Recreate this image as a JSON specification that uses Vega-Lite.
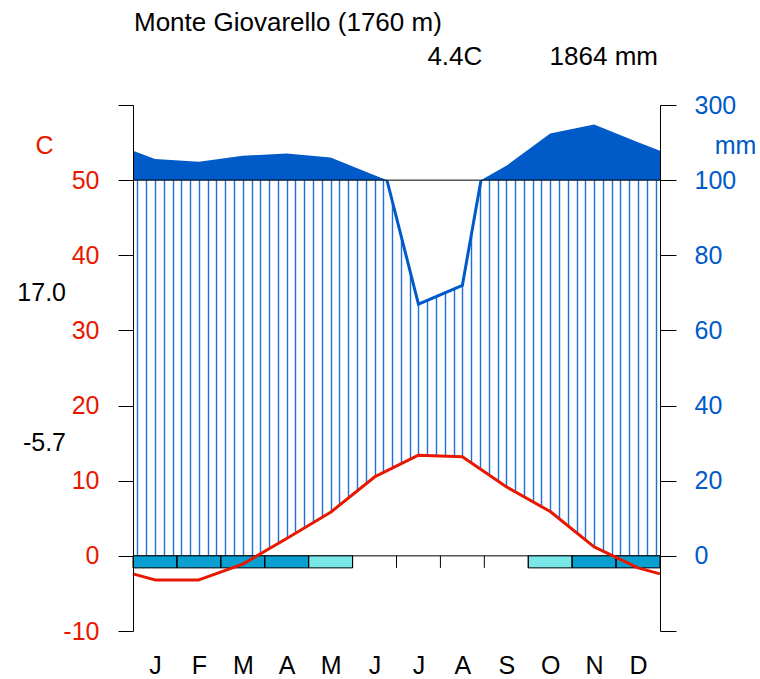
{
  "$schema": "https://vega.github.io/schema/vega-lite/v6.json",
  "width": 527,
  "height": 526,
  "autosize": "none",
  "padding": {"left": 133, "top": 105, "right": 100, "bottom": 48},
  "background": "white",
  "config": {"view": {"stroke": null}, "font": "Liberation Sans"},
  "datasets": {
    "clim": [
      {"pos": 0, "month": "Dec-Jan", "edge": true, "t": -2.4, "p": 178.5},
      {"pos": 0.5, "month": "Jan", "edge": false, "t": -3.2, "p": 156},
      {"pos": 1.5, "month": "Feb", "edge": false, "t": -3.2, "p": 149},
      {"pos": 2.5, "month": "Mar", "edge": false, "t": -1.1, "p": 165},
      {"pos": 3.5, "month": "Apr", "edge": false, "t": 2.3, "p": 171},
      {"pos": 4.5, "month": "May", "edge": false, "t": 5.8, "p": 160},
      {"pos": 5.5, "month": "Jun", "edge": false, "t": 10.5, "p": 113},
      {"pos": 6.5, "month": "Jul", "edge": false, "t": 13.4, "p": 67},
      {"pos": 7.5, "month": "Aug", "edge": false, "t": 13.2, "p": 72},
      {"pos": 8.5, "month": "Sep", "edge": false, "t": 9.2, "p": 138},
      {"pos": 9.5, "month": "Oct", "edge": false, "t": 5.9, "p": 224},
      {"pos": 10.5, "month": "Nov", "edge": false, "t": 1.2, "p": 248},
      {"pos": 11.5, "month": "Dec", "edge": false, "t": -1.6, "p": 201},
      {"pos": 12, "month": "Dec-Jan", "edge": true, "t": -2.4, "p": 178.5}
    ],
    "frost": [
      {"from": 0, "to": 1, "kind": "sure"},
      {"from": 1, "to": 2, "kind": "sure"},
      {"from": 2, "to": 3, "kind": "sure"},
      {"from": 3, "to": 4, "kind": "sure"},
      {"from": 4, "to": 5, "kind": "probable"},
      {"from": 9, "to": 10, "kind": "probable"},
      {"from": 10, "to": 11, "kind": "sure"},
      {"from": 11, "to": 12, "kind": "sure"}
    ],
    "bounds": [
      {"b": 1}, {"b": 2}, {"b": 3}, {"b": 4}, {"b": 5}, {"b": 6},
      {"b": 7}, {"b": 8}, {"b": 9}, {"b": 10}, {"b": 11}
    ]
  },
  "data": {"name": "clim"},
  "layer": [
    {
      "mark": {"type": "area", "color": "white", "clip": true},
      "encoding": {
        "x": {
          "field": "pos",
          "type": "quantitative",
          "title": null,
          "scale": {"domain": [0, 12], "nice": false, "zero": false},
          "axis": {
            "values": [0.1, 0.3, 0.5, 0.7, 0.9, 1.1, 1.3, 1.5, 1.7, 1.9, 2.1, 2.3, 2.5, 2.7, 2.9, 3.1, 3.3, 3.5, 3.7, 3.9, 4.1, 4.3, 4.5, 4.7, 4.9, 5.1, 5.3, 5.5, 5.7, 5.9, 6.1, 6.3, 6.5, 6.7, 6.9, 7.1, 7.3, 7.5, 7.7, 7.9, 8.1, 8.3, 8.5, 8.7, 8.9, 9.1, 9.3, 9.5, 9.7, 9.9, 10.1, 10.3, 10.5, 10.7, 10.9, 11.1, 11.3, 11.5, 11.7, 11.9],
            "tickCount": 100,
            "grid": true,
            "gridColor": "#1f6fd6",
            "gridWidth": 1.4,
            "ticks": false,
            "tickSize": 0,
            "domain": false,
            "labelExpr": "abs(datum.value - floor(datum.value) - 0.5) < 0.01 ? ['J','F','M','A','M','J','J','A','S','O','N','D'][floor(datum.value)] : ''",
            "labelFontSize": 25,
            "labelColor": "black",
            "labelPadding": 22,
            "labelOverlap": false,
            "labelFlush": false,
            "zindex": 0
          }
        },
        "y": {"field": "p", "type": "quantitative", "scale": {"domain": [-20, 120], "nice": false, "zero": false}, "axis": null},
        "y2": {"datum": 100}
      }
    },
    {
      "mark": {"type": "line", "color": "#005ac8", "strokeWidth": 3, "clip": true},
      "encoding": {
        "x": {"field": "pos", "type": "quantitative", "title": null, "scale": {"domain": [0, 12], "nice": false, "zero": false}},
        "y": {"field": "p", "type": "quantitative", "scale": {"domain": [-20, 120], "nice": false, "zero": false}, "axis": null}
      }
    },
    {
      "mark": {"type": "area", "color": "white"},
      "encoding": {
        "x": {"field": "pos", "type": "quantitative", "title": null, "scale": {"domain": [0, 12], "nice": false, "zero": false}},
        "y": {"field": "t", "type": "quantitative", "scale": {"domain": [-10, 60], "nice": false, "zero": false}, "axis": null},
        "y2": {"datum": -10.5}
      }
    },
    {
      "data": {"values": [{}]},
      "mark": {"type": "rect", "color": "white"},
      "encoding": {
        "x": {"datum": 0, "type": "quantitative", "title": null, "scale": {"domain": [0, 12], "nice": false, "zero": false}},
        "x2": {"datum": 12},
        "y": {"datum": 0, "type": "quantitative", "scale": {"domain": [-10, 60], "nice": false, "zero": false}, "axis": null},
        "y2": {"datum": -10.5}
      }
    },
    {
      "data": {"values": [{}]},
      "mark": {"type": "rect", "color": "#005ac8"},
      "encoding": {
        "x": {"datum": 0, "type": "quantitative", "title": null, "scale": {"domain": [0, 12], "nice": false, "zero": false}},
        "x2": {"datum": 12},
        "y": {
          "datum": 100,
          "type": "quantitative",
          "scale": {"domain": [-20, 100, 300], "range": [526, 75.142857, 0], "nice": false, "zero": false},
          "axis": {
            "orient": "right",
            "values": [-20, 0, 20, 40, 60, 80, 100, 300],
            "labelExpr": "datum.value < 0 ? '' : '' + datum.value",
            "grid": false,
            "tickSize": 16,
            "tickColor": "black",
            "domainColor": "black",
            "labelColor": "#005ac8",
            "labelFontSize": 25,
            "labelPadding": 18,
            "labelFlush": false,
            "labelOverlap": false,
            "title": "mm",
            "titleAngle": 0,
            "titleX": 75,
            "titleY": 40,
            "titleAlign": "center",
            "titleBaseline": "middle",
            "titleColor": "#005ac8",
            "titleFontSize": 25,
            "titleFontWeight": "normal",
            "zindex": 1
          }
        },
        "y2": {"datum": 300}
      }
    },
    {
      "mark": {"type": "area", "color": "white"},
      "encoding": {
        "x": {"field": "pos", "type": "quantitative", "title": null, "scale": {"domain": [0, 12], "nice": false, "zero": false}},
        "y": {"field": "p", "type": "quantitative", "scale": {"domain": [-1100, 300], "nice": false, "zero": false}, "axis": null},
        "y2": {"datum": 308}
      }
    },
    {
      "data": {"values": [{}]},
      "mark": {"type": "rule", "color": "black", "strokeWidth": 1},
      "encoding": {
        "y": {"datum": 50, "type": "quantitative", "scale": {"domain": [-10, 60], "nice": false, "zero": false}, "axis": null}
      }
    },
    {
      "data": {"values": [{}]},
      "mark": {"type": "rule", "color": "black", "strokeWidth": 1},
      "encoding": {
        "y": {"datum": 0, "type": "quantitative", "scale": {"domain": [-10, 60], "nice": false, "zero": false}, "axis": null}
      }
    },
    {
      "data": {"name": "frost"},
      "mark": {"type": "rect", "stroke": "black", "strokeWidth": 1},
      "encoding": {
        "x": {"field": "from", "type": "quantitative", "title": null, "scale": {"domain": [0, 12], "nice": false, "zero": false}},
        "x2": {"field": "to"},
        "y": {"datum": 0, "type": "quantitative", "scale": {"domain": [-10, 60], "nice": false, "zero": false}, "axis": null},
        "y2": {"datum": -1.6},
        "fill": {"field": "kind", "type": "nominal", "scale": {"domain": ["sure", "probable"], "range": ["#09a0d1", "#79e6e8"]}, "legend": null}
      }
    },
    {
      "data": {"name": "bounds"},
      "mark": {"type": "rule", "color": "black", "strokeWidth": 1},
      "encoding": {
        "x": {"field": "b", "type": "quantitative", "title": null, "scale": {"domain": [0, 12], "nice": false, "zero": false}},
        "y": {"datum": 0, "type": "quantitative", "scale": {"domain": [-10, 60], "nice": false, "zero": false}, "axis": null},
        "y2": {"datum": -1.6}
      }
    },
    {
      "mark": {"type": "line", "color": "#e81800", "strokeWidth": 3, "strokeJoin": "round"},
      "encoding": {
        "x": {"field": "pos", "type": "quantitative", "title": null, "scale": {"domain": [0, 12], "nice": false, "zero": false}},
        "y": {
          "field": "t",
          "type": "quantitative",
          "scale": {"domain": [-10, 60], "nice": false, "zero": false},
          "axis": {
            "orient": "left",
            "values": [-10, 0, 10, 20, 30, 40, 50, 60],
            "labelExpr": "datum.value > 55 ? '' : '' + datum.value",
            "grid": false,
            "tickSize": 15,
            "tickColor": "black",
            "domainColor": "black",
            "labelColor": "#e81800",
            "labelFontSize": 25,
            "labelPadding": 19,
            "labelFlush": false,
            "labelOverlap": false,
            "title": "C",
            "titleAngle": 0,
            "titleX": -89,
            "titleY": 40,
            "titleAlign": "center",
            "titleBaseline": "middle",
            "titleColor": "#e81800",
            "titleFontSize": 25,
            "titleFontWeight": "normal",
            "zindex": 1
          }
        }
      }
    },
    {
      "data": {"values": [{"label": "17.0"}]},
      "mark": {"type": "text", "align": "right", "baseline": "middle", "fontSize": 25, "dx": -67, "color": "black"},
      "encoding": {
        "text": {"field": "label"},
        "x": {"datum": 0, "type": "quantitative", "title": null, "scale": {"domain": [0, 12], "nice": false, "zero": false}},
        "y": {"datum": 35, "type": "quantitative", "scale": {"domain": [-10, 60], "nice": false, "zero": false}, "axis": null}
      }
    },
    {
      "data": {"values": [{"label": "-5.7"}]},
      "mark": {"type": "text", "align": "right", "baseline": "middle", "fontSize": 25, "dx": -67, "color": "black"},
      "encoding": {
        "text": {"field": "label"},
        "x": {"datum": 0, "type": "quantitative", "title": null, "scale": {"domain": [0, 12], "nice": false, "zero": false}},
        "y": {"datum": 15, "type": "quantitative", "scale": {"domain": [-10, 60], "nice": false, "zero": false}, "axis": null}
      }
    },
    {
      "data": {"values": [{"station": "Monte Giovarello (1760 m)"}]},
      "mark": {"type": "text", "align": "left", "baseline": "alphabetic", "fontSize": 26, "dx": 1, "dy": -74, "color": "black"},
      "encoding": {
        "text": {"field": "station"},
        "x": {"datum": 0, "type": "quantitative", "title": null, "scale": {"domain": [0, 12], "nice": false, "zero": false}},
        "y": {"datum": 60, "type": "quantitative", "scale": {"domain": [-10, 60], "nice": false, "zero": false}, "axis": null}
      }
    },
    {
      "transform": [
        {"filter": "!datum.edge"},
        {"aggregate": [{"op": "mean", "field": "t", "as": "mt"}]},
        {"calculate": "format(datum.mt, '.1f') + 'C'", "as": "tlab"}
      ],
      "mark": {"type": "text", "align": "right", "baseline": "alphabetic", "fontSize": 26, "dx": -2, "dy": -40, "color": "black"},
      "encoding": {
        "text": {"field": "tlab"},
        "x": {"datum": 8, "type": "quantitative", "title": null, "scale": {"domain": [0, 12], "nice": false, "zero": false}},
        "y": {"datum": 60, "type": "quantitative", "scale": {"domain": [-10, 60], "nice": false, "zero": false}, "axis": null}
      }
    },
    {
      "transform": [
        {"filter": "!datum.edge"},
        {"aggregate": [{"op": "sum", "field": "p", "as": "sp"}]},
        {"calculate": "datum.sp + ' mm'", "as": "plab"}
      ],
      "mark": {"type": "text", "align": "right", "baseline": "alphabetic", "fontSize": 26, "dx": -2, "dy": -40, "color": "black"},
      "encoding": {
        "text": {"field": "plab"},
        "x": {"datum": 12, "type": "quantitative", "title": null, "scale": {"domain": [0, 12], "nice": false, "zero": false}},
        "y": {"datum": 60, "type": "quantitative", "scale": {"domain": [-10, 60], "nice": false, "zero": false}, "axis": null}
      }
    }
  ],
  "resolve": {"scale": {"y": "independent"}, "axis": {"y": "independent"}}
}
